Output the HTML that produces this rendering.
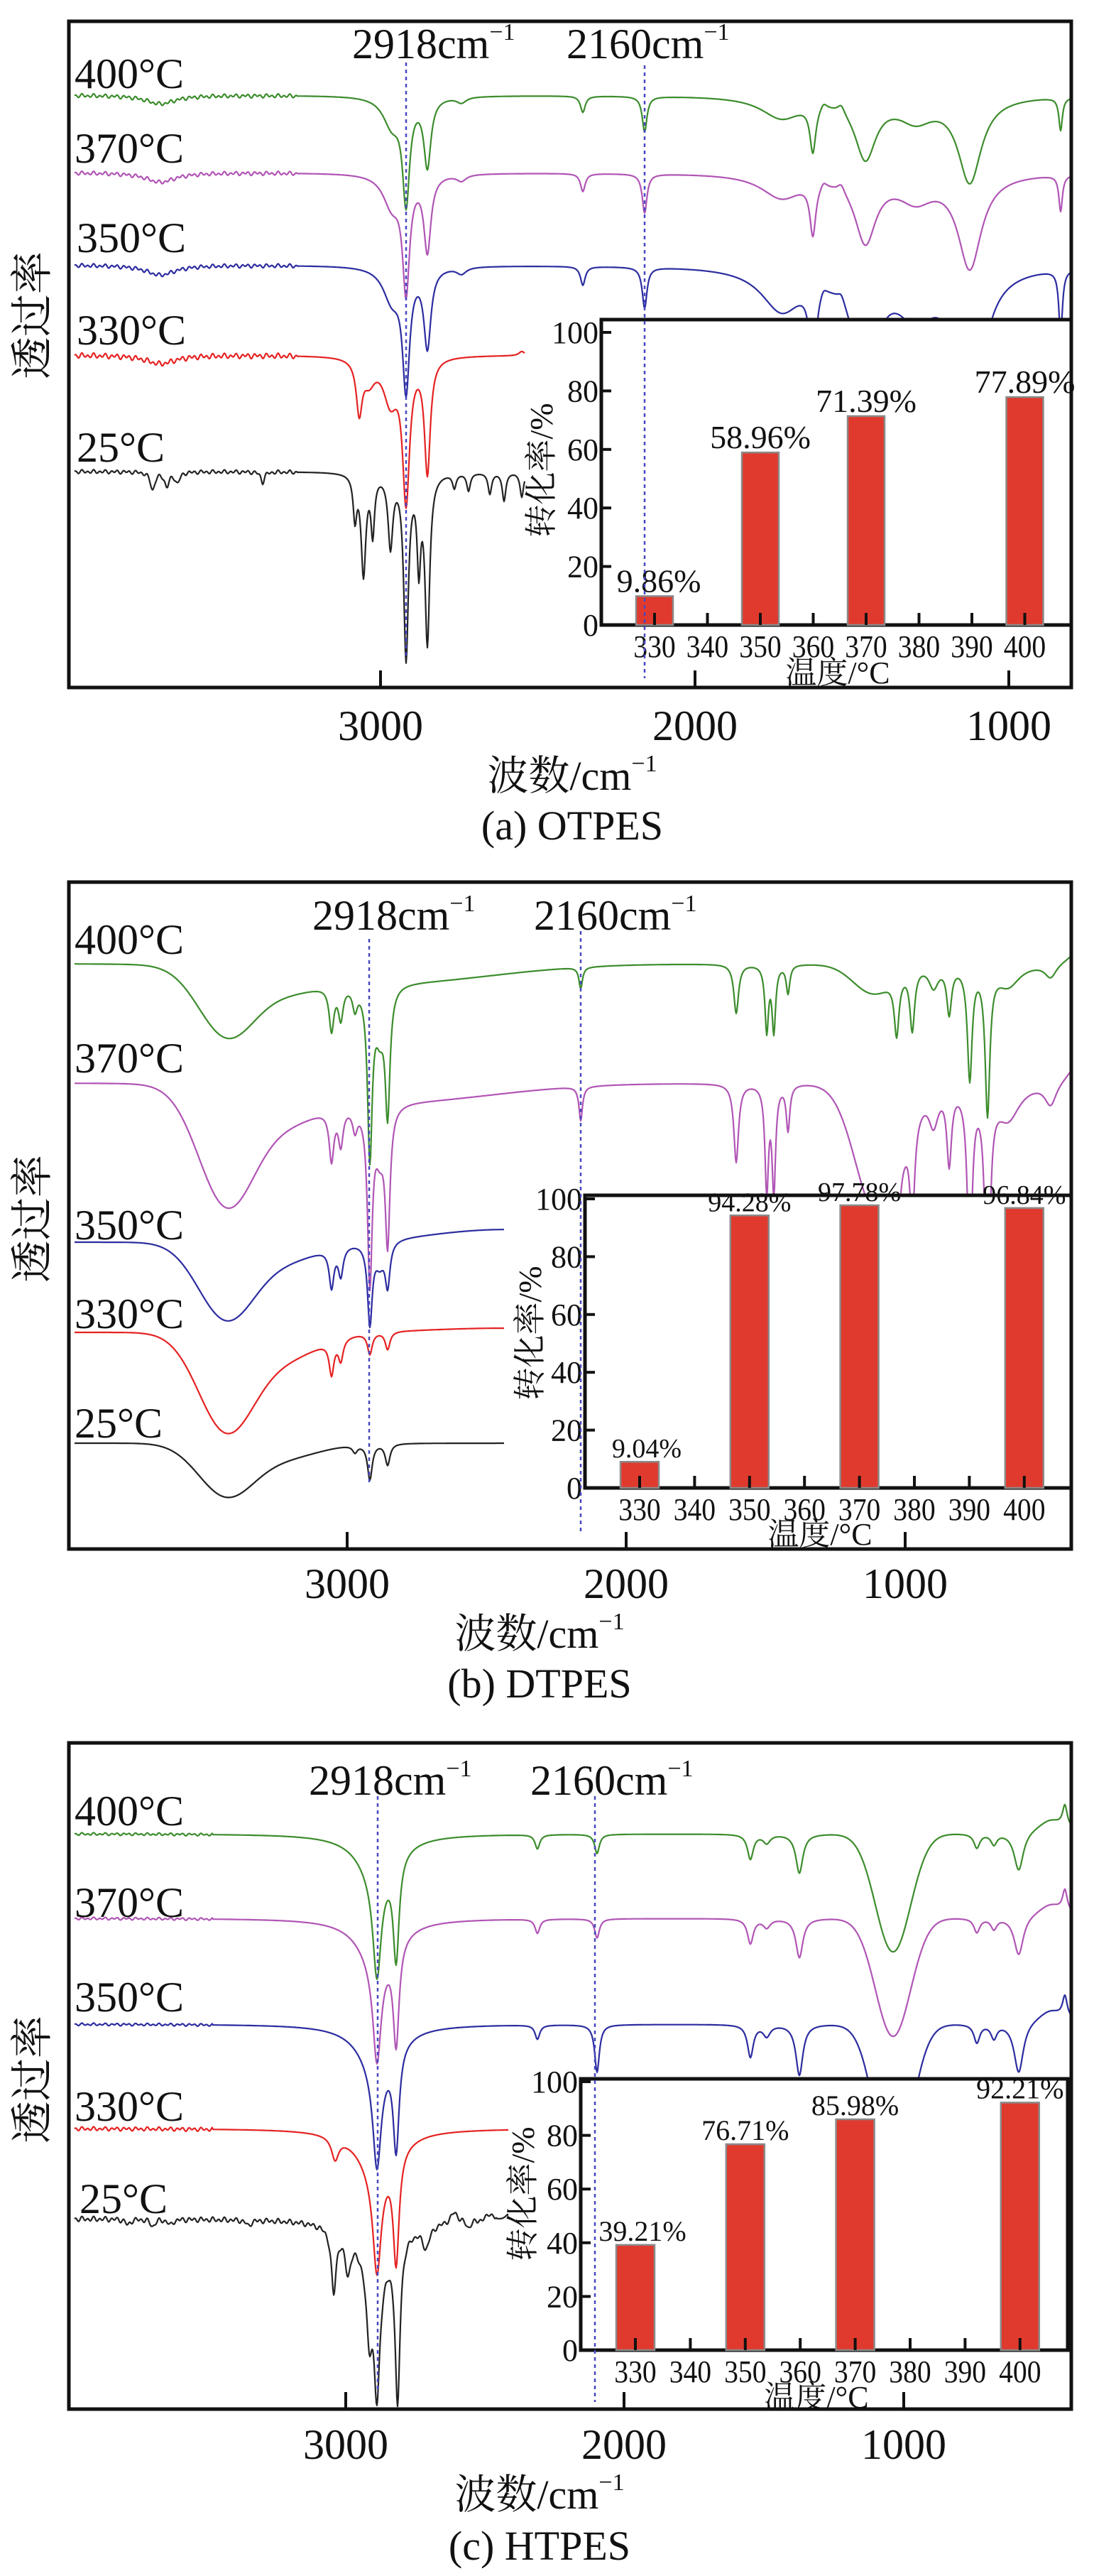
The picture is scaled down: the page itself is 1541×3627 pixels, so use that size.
<!DOCTYPE html>
<html><head><meta charset="utf-8">
<style>
html,body{margin:0;padding:0;background:#fff;}
svg{display:block;}
.n{font-family:"Liberation Serif","Noto Serif CJK SC",serif;fill:#111;}
.c{font-family:"Liberation Serif","Noto Serif CJK SC","Noto Sans CJK SC",serif;fill:#111;}
</style></head>
<body>
<svg id="s" width="1541" height="3627" viewBox="0 0 1541 3627" xmlns="http://www.w3.org/2000/svg">
<defs>
<clipPath id="ca"><rect x="97" y="30" width="1412" height="938"/></clipPath>
<clipPath id="cb"><rect x="97" y="1242" width="1412" height="939"/></clipPath>
<clipPath id="cc"><rect x="97" y="2454" width="1412" height="938"/></clipPath>
</defs>
<g id="ta" clip-path="url(#ca)"></g>
<g id="tb" clip-path="url(#cb)"></g>
<g id="tc" clip-path="url(#cc)"></g>

<!-- Panel A -->
<rect x="97" y="30" width="1412" height="938" fill="none" stroke="#111" stroke-width="5"/>
<g stroke="#111" stroke-width="4"><line x1="536" y1="968" x2="536" y2="944"/><line x1="979" y1="968" x2="979" y2="944"/><line x1="1421" y1="968" x2="1421" y2="944"/></g>
<g class="n" font-size="60" text-anchor="middle"><text x="536" y="1042">3000</text><text x="979" y="1042">2000</text><text x="1421" y="1042">1000</text></g>
<text class="c" x="806" y="1112" font-size="58" text-anchor="middle">波数/cm<tspan font-size="34" dy="-26">−1</tspan></text>
<text class="c" x="806" y="1182" font-size="58" text-anchor="middle">(a) OTPES</text>
<text class="c" font-size="60" text-anchor="middle" transform="translate(66,444) rotate(-90)">透过率</text>
<g class="n" font-size="60"><text x="105" y="124">400°C</text><text x="105" y="229">370°C</text><text x="108" y="355">350°C</text><text x="108" y="485">330°C</text><text x="108" y="650">25°C</text></g>
<text class="n" x="496" y="82" font-size="60">2918cm<tspan font-size="34" dy="-26">−1</tspan></text>
<text class="n" x="798" y="82" font-size="60">2160cm<tspan font-size="34" dy="-26">−1</tspan></text>
<g id="ia"></g>
<line x1="572" y1="88" x2="572" y2="928" stroke="#4848c0" stroke-width="2.5" stroke-dasharray="5,5"/>
<line x1="908" y1="92" x2="908" y2="955" stroke="#4848c0" stroke-width="2.5" stroke-dasharray="5,5"/>

<!-- Panel B -->
<rect x="97" y="1242" width="1412" height="939" fill="none" stroke="#111" stroke-width="5"/>
<g stroke="#111" stroke-width="4"><line x1="489" y1="2181" x2="489" y2="2157"/><line x1="882" y1="2181" x2="882" y2="2157"/><line x1="1275" y1="2181" x2="1275" y2="2157"/></g>
<g class="n" font-size="60" text-anchor="middle"><text x="489" y="2250">3000</text><text x="882" y="2250">2000</text><text x="1275" y="2250">1000</text></g>
<text class="c" x="760" y="2320" font-size="58" text-anchor="middle">波数/cm<tspan font-size="34" dy="-26">−1</tspan></text>
<text class="c" x="760" y="2390" font-size="58" text-anchor="middle">(b) DTPES</text>
<text class="c" font-size="60" text-anchor="middle" transform="translate(66,1716) rotate(-90)">透过率</text>
<g class="n" font-size="60"><text x="105" y="1343">400°C</text><text x="105" y="1510">370°C</text><text x="105" y="1745">350°C</text><text x="105" y="1870">330°C</text><text x="105" y="2024">25°C</text></g>
<text class="n" x="440" y="1309" font-size="60">2918cm<tspan font-size="34" dy="-26">−1</tspan></text>
<text class="n" x="752" y="1309" font-size="60">2160cm<tspan font-size="34" dy="-26">−1</tspan></text>
<g id="ib"></g>
<line x1="520" y1="1322" x2="520" y2="2087" stroke="#4848c0" stroke-width="2.5" stroke-dasharray="5,5"/>
<line x1="818" y1="1311" x2="818" y2="2156" stroke="#4848c0" stroke-width="2.5" stroke-dasharray="5,5"/>

<!-- Panel C -->
<rect x="97" y="2454" width="1412" height="938" fill="none" stroke="#111" stroke-width="5"/>
<g stroke="#111" stroke-width="4"><line x1="487" y1="3392" x2="487" y2="3368"/><line x1="879" y1="3392" x2="879" y2="3368"/><line x1="1273" y1="3392" x2="1273" y2="3368"/></g>
<g class="n" font-size="60" text-anchor="middle"><text x="487" y="3462">3000</text><text x="879" y="3462">2000</text><text x="1273" y="3462">1000</text></g>
<text class="c" x="760" y="3532" font-size="58" text-anchor="middle">波数/cm<tspan font-size="34" dy="-26">−1</tspan></text>
<text class="c" x="760" y="3604" font-size="58" text-anchor="middle">(c) HTPES</text>
<text class="c" font-size="60" text-anchor="middle" transform="translate(66,2928) rotate(-90)">透过率</text>
<g class="n" font-size="60"><text x="105" y="2570">400°C</text><text x="105" y="2699">370°C</text><text x="105" y="2832">350°C</text><text x="105" y="2986">330°C</text><text x="112" y="3116">25°C</text></g>
<text class="n" x="435" y="2527" font-size="60">2918cm<tspan font-size="34" dy="-26">−1</tspan></text>
<text class="n" x="747" y="2527" font-size="60">2160cm<tspan font-size="34" dy="-26">−1</tspan></text>
<g id="ic"></g>
<line x1="532" y1="2529" x2="532" y2="3370" stroke="#4848c0" stroke-width="2.5" stroke-dasharray="5,5"/>
<line x1="838" y1="2529" x2="838" y2="3382" stroke="#4848c0" stroke-width="2.5" stroke-dasharray="5,5"/>
</svg>
<script>
(function(){
var NS="http://www.w3.org/2000/svg";
function el(tag,attrs,parent,txt){var e=document.createElementNS(NS,tag);for(var k in attrs)e.setAttribute(k,attrs[k]);if(txt!==undefined)e.textContent=txt;parent.appendChild(e);return e;}
function trace(g,x0,x1,base,feats,color,noise,nx){
  var d="";
  for(var x=x0;x<=x1;x+=1){
    var y=base;
    for(var i=0;i<feats.length;i++){var f=feats[i];var t=(x-f[0])/f[2];
      if(f[3]==='g')y+=f[1]*Math.exp(-t*t);else y+=f[1]/(1+t*t);}
    if(noise&&x<(nx||420)){y+=noise*(Math.sin(x*0.75)*0.6+Math.sin(x*0.41+1)*0.4);}
    d+=(x===x0?"M":"L")+x+" "+y.toFixed(1);
  }
  el("path",{d:d,fill:"none",stroke:color,"stroke-width":2.2,"stroke-linejoin":"round"},g);
}
var G="#3c8c2c",M="#b055b5",B="#2c2ca0",R="#e52222",K="#222";
var ta=document.getElementById("ta");
function fa(s,r){return [[226,12*s,25],[552,40*s,15],[572,143*s,6],[602,96*s,6],[650,8*s,8],[821,23*s,4],[908,50*s,4],[1101,30*r,35],[1145,65*r,5],[1219,84*r,18],[1290,30*r,30],[1366,119*r,20],[1494,46*r,3],[1160,-10,6],[1185,-12,6]];}
trace(ta,105,1508,134,fa(1,1),G,3);
trace(ta,105,1508,243,fa(1.1,1.1),M,3);
trace(ta,105,1508,373,fa(1.15,2),B,3);
trace(ta,105,739,500,[[226,12,25],[506,73,5],[520,30,10],[550,60,12],[572,196,6],[602,160,5],[735,-6,5]],R,4);
trace(ta,105,739,664,[[215,25,4],[235,20,4],[250,15,4],[370,15,3],[500,60,3],[512,141,4],[525,80,3],[550,100,4],[572,258,4],[590,120,3],[602,235,4],[640,20,3],[660,25,3],[690,30,3],[710,40,3],[735,35,3]],K,3);
var tb=document.getElementById("tb");
var fbR=[[818,30,3],[1037,69,4],[1080,92,3],[1090,92,3],[1110,40,3],[1230,40,40,'g'],[1263,80,4],[1285,85,4],[1315,30,8],[1337,65,4],[1366,157,4],[1391,203,4],[1420,30,20],[1480,20,10],[1525,-25,20]];
trace(tb,105,1508,1357,[[318,92,55,'g'],[400,25,70,'g'],[467,61,4],[480,45,4],[500,30,4],[521,237,4],[546,172,4],[535,60,8],[560,25,200,'g']].concat(fbR),G,0);
var fbR2=fbR.map(function(f){return [f[0],f[1]*1.6,f[2],f[3]];});
fbR2.push([1240,120,45,'g']);
trace(tb,105,1508,1525,[[318,159,55,'g'],[400,40,70,'g'],[467,70,4],[480,50,4],[500,30,4],[521,245,4],[546,184,4],[535,60,8],[560,25,200,'g']].concat(fbR2),M,0);
trace(tb,105,710,1749,[[318,104,55,'g'],[400,25,70,'g'],[467,54,4],[480,40,4],[521,113,4],[546,60,4],[535,30,8],[710,-18,150,'g']],B,0);
trace(tb,105,710,1876,[[318,133,55,'g'],[400,35,70,'g'],[467,46,4],[480,30,4],[521,30,4],[546,25,4],[710,-6,150,'g']],R,0);
trace(tb,105,710,2032,[[318,71,55,'g'],[400,20,70,'g'],[500,10,4],[521,50,4],[546,30,4]],K,0);
var tc=document.getElementById("tc");
function fc(s,r){return [[531,60*s,30],[531,140*s,7],[558,143*s,5],[757,20*s,4],[841,27*s,4],[1057,35*r,5],[1080,12*r,6],[1126,55*r,6],[1258,166*r,35,'g'],[1376,20*r,5],[1400,15*r,5],[1435,55*r,8],[1480,-20,25],[1500,-30,4]];}
trace(tc,105,1508,2582,fc(1,1),G,2,300);
trace(tc,105,1508,2701,fc(1,1),M,2,300);
trace(tc,105,1508,2850,fc(1,1.3).concat([[841,40,4]]),B,2,300);
trace(tc,105,716,2997,[[472,31,6],[531,60,30],[531,141,7],[558,154,5]],R,3,300);
trace(tc,105,716,3124,[[180,8,4],[215,10,4],[240,8,4],[350,8,4],[470,90,4],[490,50,5],[531,60,30],[520,100,5],[531,180,5],[560,229,4],[600,30,6],[640,-15,6],[660,10,4],[690,-10,5],[716,-8,5]],K,4,700);
function inset(g,x,y,w,h,scale,x330,step,vals,fs,labfs,barw,ylx,yly,ylfs,xlbl,xlbly,vlabs){
  el("rect",{x:x,y:y,width:w,height:h,fill:"#fff",stroke:"#111","stroke-width":5},g);
  var by=y+h;
  for(var v=0;v<=100;v+=20){var yy=by-v*scale;
    el("line",{x1:x,y1:yy,x2:x+14,y2:yy,stroke:"#111","stroke-width":4},g);
    el("text",{x:x-4,y:yy+15,"font-size":fs,"text-anchor":"end","class":"n"},g,String(v));}
  var names=[330,340,350,360,370,380,390,400];
  for(var i=0;i<8;i++){var xx=x330+step*i;
    el("text",{x:xx,y:by+45,"font-size":fs,"text-anchor":"middle","class":"n",textLength:fs*1.35,lengthAdjust:"spacingAndGlyphs"},g,String(names[i]));}
  var idx=[0,2,4,7];
  for(var j=0;j<4;j++){var xx=x330+step*idx[j];var top=by-vals[j]*scale;
    el("rect",{x:xx-barw/2,y:top,width:barw,height:by-top,fill:"#e03a2e",stroke:"#8a8a8a","stroke-width":2.5},g);
    el("text",{x:xx+(vlabs?vlabs[j]:0),y:top-6,"font-size":labfs,"text-anchor":"middle","class":"n"},g,vals[j].toFixed(2)+"%");}
  for(var i=0;i<8;i++){var xx=x330+step*i;el("line",{x1:xx,y1:by,x2:xx,y2:by-17,stroke:"#111","stroke-width":4},g);}
  el("text",{"font-size":ylfs,"text-anchor":"middle","class":"c",transform:"translate("+ylx+","+yly+") rotate(-90)"},g,"转化率/%");
  el("text",{x:xlbl,y:xlbly,"font-size":fs,"text-anchor":"middle","class":"c"},g,"温度/°C");
}
inset(document.getElementById("ia"),847,450,662,430,4.12,922,74.5,[9.86,58.96,71.39,77.89],44,46,52,778,662,46,1180,962,[6,0,0,0]);
inset(document.getElementById("ib"),824,1683,685,412,4.07,901,77.4,[9.04,94.28,97.78,96.84],44,38,54,762,1877,46,1155,2175,[10,0,0,0]);
inset(document.getElementById("ic"),818,2927,686,382,3.78,895,77.4,[39.21,76.71,85.98,92.21],44,40,54,752,3089,46,1150,3390,[10,0,0,0]);
})();
</script>
</body></html>
